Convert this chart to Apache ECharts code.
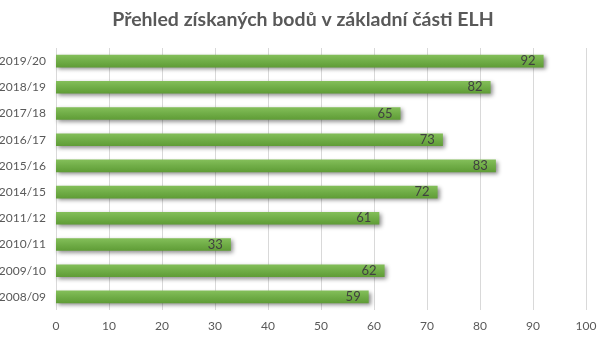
<!DOCTYPE html>
<html>
<head>
<meta charset="utf-8">
<script src="https://cdn.jsdelivr.net/npm/echarts@6/dist/echarts.min.js"></script>
<style>
  html, body { margin: 0; padding: 0; background: #ffffff; }
  #chart { width: 606px; height: 337px; }
</style>
</head>
<body>
<div id="chart"></div>
<script>
// Seasons, bottom to top on the category axis
const seasons = ['2008/09', '2009/10', '2010/11', '2011/12', '2014/15', '2015/16', '2016/17', '2017/18', '2018/19', '2019/20'];
// Points gained in the regular part of the season
const points = [59, 62, 33, 61, 72, 83, 73, 65, 82, 92];
// Value axis ticks
const axisMin = 0;
const axisMax = 100;
const axisStep = 10;

const chart = echarts.init(document.getElementById('chart'), null, { renderer: 'canvas' });
const font = 'Lato, "Open Sans", sans-serif';

chart.setOption({
  animation: false,
  backgroundColor: '#ffffff',
  title: {
    text: 'Přehled získaných bodů v základní části ELH',
    left: 'center',
    top: 5,
    textStyle: { fontFamily: font, fontSize: 19.5, fontWeight: 'bold', color: '#595959' }
  },
  grid: { left: 56, right: 20, top: 48, bottom: 27, containLabel: false, outerBoundsMode: 'none' },
  xAxis: {
    type: 'value',
    min: axisMin,
    max: axisMax,
    interval: axisStep,
    axisLine: { show: false },
    axisTick: { show: false },
    axisLabel: { fontFamily: font, fontSize: 12, color: '#595959', margin: 10 },
    splitLine: { lineStyle: { color: '#d9d9d9', width: 1 } }
  },
  yAxis: {
    type: 'category',
    data: seasons,
    axisLine: { show: false },
    axisTick: { show: false },
    axisLabel: { fontFamily: font, fontSize: 12, color: '#595959', margin: 10 },
    splitLine: { show: false }
  },
  series: [{
    type: 'bar',
    data: points,
    barCategoryGap: '52%',
    itemStyle: {
      color: new echarts.graphic.LinearGradient(0, 0, 0, 1, [
        { offset: 0, color: '#84bf5a' },
        { offset: 0.5, color: '#70ad47' },
        { offset: 1, color: '#5f9c36' }
      ]),
      shadowColor: 'rgba(0,0,0,0.45)',
      shadowBlur: 4,
      shadowOffsetX: 2,
      shadowOffsetY: 2
    },
    label: {
      show: true,
      position: 'insideRight',
      distance: 8,
      fontFamily: font,
      fontSize: 13,
      color: '#404040'
    }
  }]
});
</script>
</body>
</html>
